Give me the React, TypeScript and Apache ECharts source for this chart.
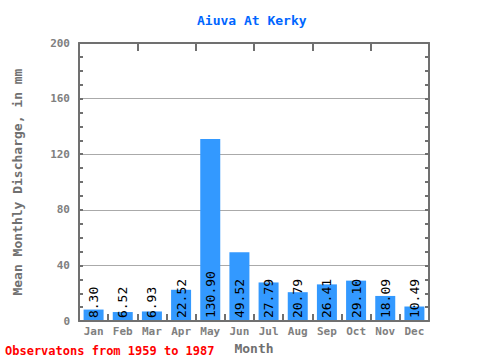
import React, { useEffect, useRef } from "react";
import * as echarts from "echarts";

const months = ["Jan", "Feb", "Mar", "Apr", "May", "Jun", "Jul", "Aug", "Sep", "Oct", "Nov", "Dec"];
const discharge = [8.3, 6.52, 6.93, 22.52, 130.9, 49.52, 27.79, 20.79, 26.41, 29.1, 18.09, 10.49];
const yMin = 0;
const yMax = 200;
const yInterval = 40;

const MONO = "'DejaVu Sans Mono', 'Liberation Mono', monospace";
const AXIS = "#707070";

export default function App() {
  const ref = useRef<HTMLDivElement>(null);
  useEffect(() => {
    if (!ref.current) return;
    const chart = echarts.init(ref.current, undefined, { renderer: "svg" });
    const lineStyle = { color: AXIS, width: 2 };
    chart.setOption({
      animation: false,
      title: {
        text: "Aiuva At Kerky",
        left: 192,
        top: 9,
        textStyle: { color: "#0066ff", fontFamily: MONO, fontWeight: "bold", fontSize: 13 },
      },
      graphic: [
        {
          type: "text",
          left: 5,
          top: 345,
          style: {
            text: "Observatons from 1959 to 1987",
            fill: "#ff0000",
            font: `bold 12px ${MONO}`,
          },
        },
      ],
      grid: { left: 79, right: 51, top: 43, bottom: 38 },
      xAxis: [
        {
          type: "category",
          data: months,
          position: "bottom",
          name: "Month",
          nameLocation: "middle",
          nameGap: 19,
          nameTextStyle: { color: AXIS, fontFamily: MONO, fontWeight: "bold", fontSize: 13 },
          axisLine: { show: true, onZero: false, lineStyle },
          axisTick: { show: true, inside: true, length: 7, lineStyle },
          axisLabel: { color: "#808080", fontFamily: MONO, fontWeight: "bold", fontSize: 11, margin: 5 },
          z: 5,
        },
        {
          type: "category",
          data: months,
          position: "top",
          axisLine: { show: true, onZero: false, lineStyle },
          axisTick: { show: true, inside: true, length: 8, lineStyle },
          axisLabel: { show: false },
        },
      ],
      yAxis: [
        {
          type: "value",
          min: yMin,
          max: yMax,
          interval: yInterval,
          name: "Mean Monthly Discharge, in mm",
          nameLocation: "middle",
          nameGap: 55,
          nameTextStyle: { color: AXIS, fontFamily: MONO, fontWeight: "bold", fontSize: 13 },
          axisLine: { show: true, onZero: false, lineStyle },
          axisTick: { show: true, inside: true, length: 4, lineStyle },
          minorTick: { show: true, splitNumber: 4, length: 4, lineStyle },
          splitLine: { show: true, lineStyle: { color: "#aaaaaa", width: 1 } },
          axisLabel: { color: "#808080", fontFamily: MONO, fontWeight: "bold", fontSize: 11, margin: 9 },
        },
        {
          type: "value",
          min: yMin,
          max: yMax,
          interval: yInterval,
          position: "right",
          axisLine: { show: true, onZero: false, lineStyle },
          axisTick: { show: true, inside: true, length: 4, lineStyle },
          minorTick: { show: true, splitNumber: 4, length: 4, lineStyle },
          splitLine: { show: false },
          axisLabel: { show: false },
        },
      ],
      series: [
        {
          type: "bar",
          data: discharge,
          barWidth: 20,
          itemStyle: { color: "#3399ff" },
          label: {
            show: true,
            position: "insideBottom",
            distance: 3,
            rotate: 90,
            align: "left",
            verticalAlign: "middle",
            formatter: (p: any) => p.value.toFixed(2),
            color: "#000",
            fontFamily: MONO,
            fontSize: 13,
          },
        },
      ],
    });
    return () => chart.dispose();
  }, []);
  return <div ref={ref} style={{ width: 480, height: 360, position: "absolute", left: 0, top: 0 }} />;
}
